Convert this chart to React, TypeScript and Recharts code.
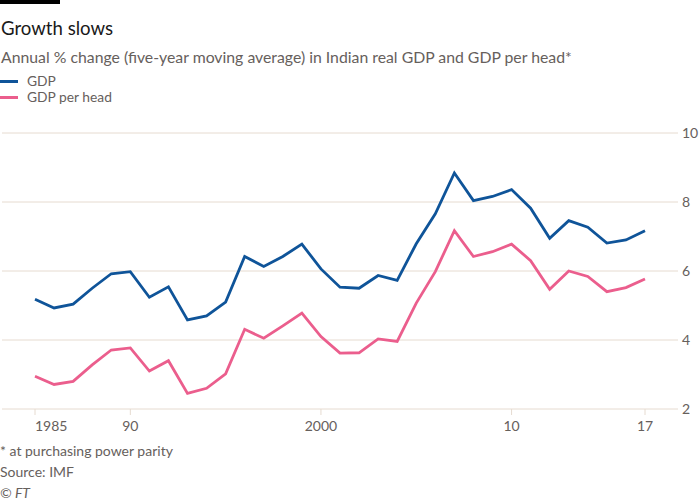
import { LineChart, Line, XAxis, YAxis, CartesianGrid } from "recharts"

// Years shown on the chart
const years = [
  1985, 1986, 1987, 1988, 1989, 1990, 1991, 1992, 1993, 1994, 1995,
  1996, 1997, 1998, 1999, 2000, 2001, 2002, 2003, 2004, 2005, 2006,
  2007, 2008, 2009, 2010, 2011, 2012, 2013, 2014, 2015, 2016, 2017
]

// Annual % change, five-year moving average
const gdp = [
  5.18, 4.93, 5.04, 5.5, 5.92, 5.98, 5.24, 5.54, 4.58, 4.7, 5.1,
  6.42, 6.13, 6.42, 6.78, 6.06, 5.53, 5.5, 5.87, 5.73, 6.79, 7.66,
  8.84, 8.04, 8.16, 8.36, 7.82, 6.95, 7.46, 7.27, 6.81, 6.9, 7.17
]

const gdpPerHead = [
  2.95, 2.71, 2.8, 3.28, 3.71, 3.77, 3.1, 3.4, 2.45, 2.6, 3.02,
  4.31, 4.05, 4.41, 4.78, 4.1, 3.62, 3.63, 4.03, 3.96, 5.07, 5.98,
  7.17, 6.42, 6.56, 6.78, 6.3, 5.47, 6.0, 5.84, 5.4, 5.52, 5.77
]

const xTicks = [1985, 1990, 2000, 2010, 2017]
const xTickLabels = ["1985", "90", "2000", "10", "17"]
const yTicks = [2, 4, 6, 8, 10]

const data = years.map((year, i) => ({ year, gdp: gdp[i], perHead: gdpPerHead[i] }))

const font = "Lato, 'Open Sans', sans-serif"
const grey = "#66605c"
const gridColor = "#e6dbd0"
const blue = "#0f5499"
const pink = "#eb5e8d"

const XTick = ({ x, y, payload, index }: any) => (
  <text
    x={x}
    y={y}
    dy="0.71em"
    textAnchor={index === 0 ? "start" : "middle"}
    fill={grey}
    fontSize={14}
    fontFamily={font}
  >
    {xTickLabels[xTicks.indexOf(payload.value)]}
  </text>
)

const YTick = ({ x, y, payload }: any) => (
  <text x={x} y={y} dy="0.35em" textAnchor="start" fill={grey} fontSize={14} fontFamily={font}>
    {payload.value}
  </text>
)

export default function App() {
  return (
    <div
      style={{
        position: "absolute",
        left: 0,
        top: 0,
        width: 700,
        height: 500,
        background: "#fff",
        fontFamily: font,
        overflow: "hidden"
      }}
    >
      <div style={{ position: "absolute", left: 0, top: 0, width: 60, height: 4, background: "#000" }} />
      <div style={{ position: "absolute", left: 1, top: 17, fontSize: 18.6, color: "#1a1a1a" }}>Growth slows</div>
      <div style={{ position: "absolute", left: 1, top: 47, fontSize: 15.8, color: grey }}>
        Annual % change (five-year moving average) in Indian real GDP and GDP per head*
      </div>

      <div style={{ position: "absolute", left: 0, top: 73, fontSize: 13.8, color: grey, lineHeight: "16px" }}>
        {[
          { name: "GDP", color: blue },
          { name: "GDP per head", color: pink }
        ].map((item) => (
          <div key={item.name} style={{ display: "flex", alignItems: "center" }}>
            <div style={{ width: 18, height: 3, background: item.color, marginRight: 9 }} />
            <span>{item.name}</span>
          </div>
        ))}
      </div>

      <div style={{ position: "absolute", left: 0, top: 0 }}>
        <LineChart width={700} height={500} data={data} margin={{ top: 133, right: 0, left: 2, bottom: 61 }}>
          <CartesianGrid vertical={false} stroke={gridColor} />
          <XAxis
            dataKey="year"
            type="number"
            domain={[1985, 2017]}
            padding={{ left: 33, right: 33 }}
            ticks={xTicks}
            interval={0}
            axisLine={false}
            tickLine={{ stroke: gridColor }}
            tickSize={6}
            tickMargin={6}
            height={30}
            tick={<XTick />}
          />
          <YAxis
            orientation="right"
            domain={[2, 10]}
            ticks={yTicks}
            axisLine={false}
            tickLine={false}
            tickSize={0}
            tickMargin={4}
            width={22}
            tick={<YTick />}
          />
          <Line dataKey="gdp" stroke={blue} strokeWidth={2.8} dot={false} isAnimationActive={false} />
          <Line dataKey="perHead" stroke={pink} strokeWidth={2.8} dot={false} isAnimationActive={false} />
        </LineChart>
      </div>

      <div style={{ position: "absolute", left: 0, top: 440, fontSize: 14, color: grey, lineHeight: "21px" }}>
        <div>* at purchasing power parity</div>
        <div>Source: IMF</div>
        <div style={{ fontStyle: "italic" }}>© FT</div>
      </div>
    </div>
  )
}
